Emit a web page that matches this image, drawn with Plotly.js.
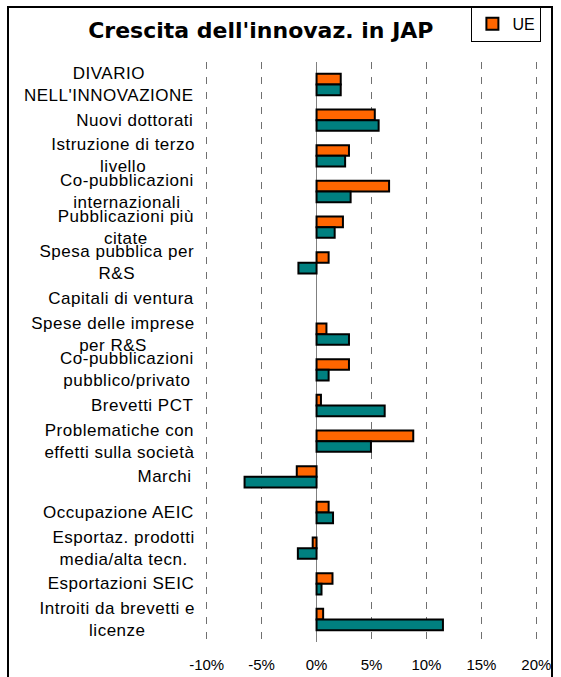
<!DOCTYPE html>
<html>
<head>
<meta charset="utf-8">
<script src="https://cdn.plot.ly/plotly-3.0.1.min.js"></script>
<style>
  html, body { margin: 0; padding: 0; background: #ffffff; }
  #wrap { position: relative; width: 561px; height: 677px; overflow: hidden; }
  #chart { width: 561px; height: 677px; }
  #chart .annotation-text { letter-spacing: 0.5px; }
  #frame { position: absolute; left: 7px; top: 6px; width: 546px; height: 720px;
           border: 2px solid #000; box-sizing: border-box; pointer-events: none; }
</style>
</head>
<body>
<div id="wrap">
  <div id="chart"></div>
  <div id="frame"></div>
</div>
<script>
// ---- data ----
const categories = [
  "DIVARIO<br>NELL'INNOVAZIONE",
  "Nuovi dottorati",
  "Istruzione di terzo<br>livello",
  "Co-pubblicazioni<br>internazionali",
  "Pubblicazioni più<br>citate",
  "Spesa pubblica per<br>R&S",
  "Capitali di ventura",
  "Spese delle imprese<br>per R&S",
  "Co-pubblicazioni<br>pubblico/privato",
  "Brevetti PCT",
  "Problematiche con<br>effetti sulla società",
  "Marchi",
  "Occupazione AEIC",
  "Esportaz. prodotti<br>media/alta tecn.",
  "Esportazioni SEIC",
  "Introiti da brevetti e<br>licenze"
];
const seriesUE  = [2.2, 5.3, 2.95, 6.6, 2.4, 1.1, null, 0.9, 2.95, 0.4, 8.8, -1.8, 1.1, -0.35, 1.45, 0.6];
const seriesJAP = [2.2, 5.65, 2.6, 3.1, 1.65, -1.65, null, 2.95, 1.1, 6.2, 4.95, -6.55, 1.5, -1.7, 0.45, 11.5];
const tickValues = [-10, -5, 0, 5, 10, 15, 20];
const tickLabels = ["-10%", "-5%", "0%", "5%", "10%", "15%", "20%"];
const titleText = "Crescita dell'innovaz. in JAP";

// ---- chart ----
const traces = [
  {
    type: 'bar', orientation: 'h', name: 'UE',
    y: categories, x: seriesUE,
    marker: { color: '#FF6600', line: { color: '#000000', width: 2 } },
    showlegend: true, hoverinfo: 'skip'
  },
  {
    type: 'bar', orientation: 'h', name: 'JAP',
    y: categories, x: seriesJAP,
    marker: { color: '#008080', line: { color: '#000000', width: 2 } },
    showlegend: false, hoverinfo: 'skip'
  }
];

const labelAnnotations = categories.map(c => ({
  text: c, xref: 'paper', yref: 'y', x: -0.04, y: c,
  xanchor: 'right', yanchor: 'middle', align: 'center', showarrow: false,
  font: { family: 'Liberation Sans, Arial, sans-serif', size: 17, color: '#000' }
}));

const layout = {
  width: 561, height: 677,
  margin: { l: 205, r: 23, t: 62, b: 35, pad: 0, autoexpand: false },
  paper_bgcolor: '#ffffff', plot_bgcolor: '#ffffff',
  barmode: 'group', bargap: 0.4, bargroupgap: 0,
  title: {
    text: '<b>' + titleText + '</b>',
    x: 0.465, xanchor: 'center', xref: 'container',
    y: 0.955, yanchor: 'middle', yref: 'container',
    font: { family: 'DejaVu Sans, Verdana, sans-serif', size: 22, color: '#000' }
  },
  xaxis: {
    range: [-10.15, 20.15], tickvals: tickValues, ticktext: tickLabels,
    showgrid: true, gridcolor: '#707070', gridwidth: 1.2, griddash: '7px,8px',
    zeroline: true, zerolinecolor: '#808080', zerolinewidth: 1.5,
    showline: false, ticks: '', ticklabelstandoff: 12,
    tickfont: { family: 'Liberation Sans, Arial, sans-serif', size: 15, color: '#000' },
    fixedrange: true
  },
  yaxis: {
    type: 'category', autorange: 'reversed',
    showticklabels: false, showgrid: false, zeroline: false, showline: false, ticks: '',
    fixedrange: true
  },
  legend: {
    x: 0.8, xanchor: 'left', xref: 'paper',
    y: 1.0966, yanchor: 'top', yref: 'paper',
    bgcolor: '#ffffff', bordercolor: '#000000', borderwidth: 1,
    font: { family: 'Liberation Sans, Arial, sans-serif', size: 16, color: '#000' },
    itemwidth: 30, tracegroupgap: 0
  },
  annotations: labelAnnotations,
  hovermode: false
};

Plotly.newPlot('chart', traces, layout, { displayModeBar: false, staticPlot: true });
</script>
</body>
</html>
